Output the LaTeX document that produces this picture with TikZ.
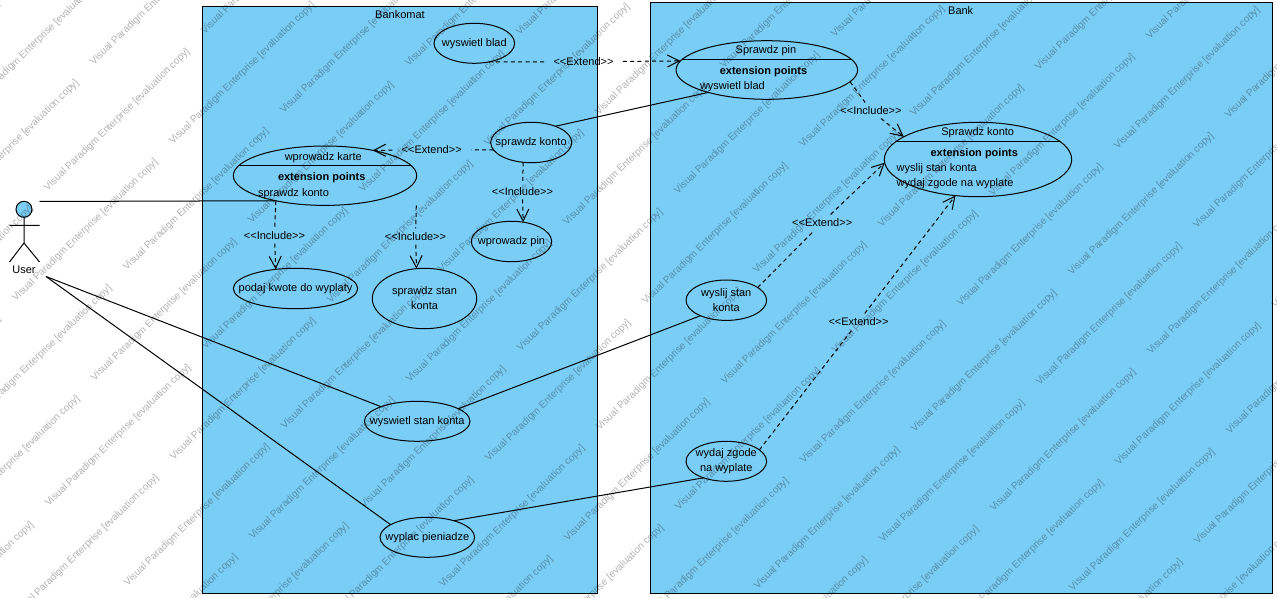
\documentclass[tikz,border=0pt]{standalone}
\usepackage{fontspec}
\setmainfont{Liberation Sans}
\usetikzlibrary{shapes.geometric,arrows.meta}
\definecolor{vpblue}{HTML}{7ACDF5}
\newcommand{\wmtext}{Visual Paradigm Enterprise [evaluation copy]}
\tikzset{
  x=0.75pt,y=-0.75pt,
  every node/.style={font=\fontsize{8.25}{11.25}\selectfont,inner sep=0pt,outer sep=0pt},
  system/.style={draw=black,fill=vpblue,line width=0.75pt},
  uc/.style 2 args={ellipse,draw=black,line width=0.75pt,
    minimum width=1.5*#1 pt,minimum height=1.5*#2 pt},
  uctext/.style={align=center},
  assoc/.style={draw=black,line width=0.75pt},
  depline/.style={draw=black,line width=0.75pt,dash pattern=on 3pt off 2.5pt},
  deparrow/.style={depline,-{Straight Barb[length=9pt,width=9pt]}},
  deplabel/.style={inner xsep=7pt,inner ysep=3pt},
  extpts/.style={font=\fontsize{8.25}{11.25}\selectfont\bfseries},
  watermark/.style={font=\fontsize{7.5}{9}\selectfont,text=black,text opacity=0.3,
    rotate=44.3,anchor=base west}
}
\begin{document}
\begin{tikzpicture}
\useasboundingbox (0,0) rectangle (1277,598);
\fill[white] (0,0) rectangle (1277,598);
% systems
\draw[system] (202.5,6.5) rectangle (597.5,593);
\draw[system] (650.5,2.5) rectangle (1272.5,593);
\node (tbankomat) at (400,14.5) {Bankomat};
\node (tbank) at (960.7,10.5) {Bank};
% actor
\node[circle,draw=black,fill=vpblue,line width=0.75pt,minimum size=12pt] (userhead) at (24,209.3) {};
\coordinate (hip) at (24,243);
\coordinate (armL) at (9.5,225.3);
\coordinate (armR) at (39.5,225.3);
\coordinate (legL) at (9.5,262);
\coordinate (legR) at (39.5,262);
\draw[assoc] (userhead) -- (hip) (armL) -- (armR) (legL) -- (hip) -- (legR);
\node (tuser) at (24,269.5) {User};
\coordinate (userA) at (39.5,201.5);
\coordinate (userB) at (46,276.5);
% use cases
\node[uc={40.3}{20}] (blad) at (474.3,43.3) {};
\node[uctext] (tblad) at (blad) {wyswietl blad};
\node[uc={90.8}{29.3}] (pin) at (766.8,70) {};
\draw[assoc] ([shift={(-85,-10.3)}]pin.center) -- ([shift={(85,-10.3)}]pin.center);
\node (tpin) at (766,50.5) {Sprawdz pin};
\node[extpts] (epin) at (763.5,71.8) {extension points};
\node[anchor=west] (pin1) at (700,86.5) {wyswietl blad};
\node[uc={91.7}{29.7}] (karte) at (325,175.7) {};
\draw[assoc] ([shift={(-85.9,-10.4)}]karte.center) -- ([shift={(85.9,-10.4)}]karte.center);
\node (tkarte) at (323.3,157.2) {wprowadz karte};
\node[extpts] (ekarte) at (321.7,177.8) {extension points};
\node[anchor=west] (karte1) at (258,193.2) {sprawdz konto};
\node[uc={40.5}{20.2}] (konto) at (531.2,142.5) {};
\node[uctext] (tkonto) at (konto) {sprawdz konto};
\node[uc={40.2}{20.2}] (wpin) at (511.5,241.5) {};
\node[uctext] (twpin) at (wpin) {wprowadz pin};
\node[uc={62.2}{20.2}] (kwote) at (295.5,288.5) {};
\node[uctext] (tkwote) at (kwote) {podaj kwote do wyplaty};
\node[uc={52.2}{30.2}] (stan) at (424.5,298.5) {};
\node[uctext] (tstan) at (stan) {sprawdz stan\\konta};
\node[uc={52.8}{20}] (wstan) at (417.2,421.3) {};
\node[uctext] (twstan) at (wstan) {wyswietl stan konta};
\node[uc={47.3}{20}] (wyplac) at (427.3,537.3) {};
\node[uctext] (twyplac) at (wyplac) {wyplac pieniadze};
\node[uc={40.3}{20.2}] (wyslij) at (726.3,300.2) {};
\node[uctext] (twyslij) at (wyslij) {wyslij stan\\konta};
\node[uc={40.3}{20}] (wydaj) at (726.3,461.3) {};
\node[uctext] (twydaj) at (wydaj) {wydaj zgode\\na wyplate};
\node[uc={93.7}{37.2}] (bkonto) at (978,159.5) {};
\draw[assoc] ([shift={(-81.7,-18.2)}]bkonto.center) -- ([shift={(81.7,-18.2)}]bkonto.center);
\node (tbkonto) at (977.7,132.8) {Sprawdz konto};
\node[extpts] (ebkonto) at (974.3,153.8) {extension points};
\node[anchor=west] (bk1) at (896.7,168.8) {wyslij stan konta};
\node[anchor=west] (bk2) at (896.7,183.8) {wydaj zgode na wyplate};
% associations
\draw[assoc] (userA) -- (karte.207.1);
\draw[assoc] (userB) -- (wstan.158.9);
\draw[assoc] (userB) -- (wyplac.161.3);
\draw[assoc] (konto.34.7) -- (pin.201.2);
\draw[assoc] (wstan.17.5) -- (wyslij.211.5);
\draw[assoc] (wyplac.32.4) -- (wydaj.216.8);
% dependencies
\node[deplabel] (l1) at (583.5,61.8) {<{}<Extend>{}>};
\draw[depline] (blad.-52.6) -- (l1);
\draw[deparrow] (l1) -- (pin.174.8);
\node[deplabel] (l2) at (431.7,150) {<{}<Extend>{}>};
\draw[depline] (konto.191.6) -- (l2);
\draw[deparrow] (l2) -- (karte.28.8);
\node[deplabel] (l3) at (522.5,191.3) {<{}<Include>{}>};
\draw[depline] (konto.248.4) -- (l3);
\draw[deparrow] (l3) -- (wpin.59.5);
\node[deplabel] (l4) at (274.5,235.5) {<{}<Include>{}>};
\draw[depline] (karte.207.1) -- (l4);
\draw[deparrow] (l4) -- (kwote.136.9);
\coordinate (karteSE) at (416.3,205.5);
\node[deplabel] (l5) at (415.5,236.5) {<{}<Include>{}>};
\draw[depline] (karteSE) -- (l5);
\draw[deparrow] (l5) -- (stan.105.5);
\node[deplabel] (l6) at (871,110.5) {<{}<Include>{}>};
\draw[depline] (pin.-8.6) -- (l6);
\draw[deparrow] (l6) -- (bkonto.163.8);
\node[deplabel] (l7) at (822.2,222.5) {<{}<Extend>{}>};
\draw[depline] (wyslij.22.9) -- (l7);
\draw[deparrow] (l7) -- (bkonto.182);
\node[deplabel] (l8) at (858.5,321.5) {<{}<Extend>{}>};
\draw[depline] (wydaj.19) -- (l8);
\draw[deparrow] (l8) -- (bkonto.238.3);
% watermark
\begin{scope}
\clip (0,0) rectangle (1277,598);
\foreach \i in {-4,...,8}{
  \foreach \j in {-3,...,10}{
    \foreach \ax/\ay in {47.8/191.3,172.8/144.7}{
      \pgfmathsetmacro{\wx}{\ax+157*\i+79*\j}
      \pgfmathsetmacro{\wy}{\ay-157*\i+79.3*\j}
      \pgfmathtruncatemacro{\keep}{and(and(\wx>-143,\wx<1277),and(\wy>0,\wy<738))}
      \ifnum\keep=1
        \node[watermark] at (\wx,\wy) {\wmtext};
      \fi
    }
  }
}
\end{scope}
\end{tikzpicture}
\end{document}
